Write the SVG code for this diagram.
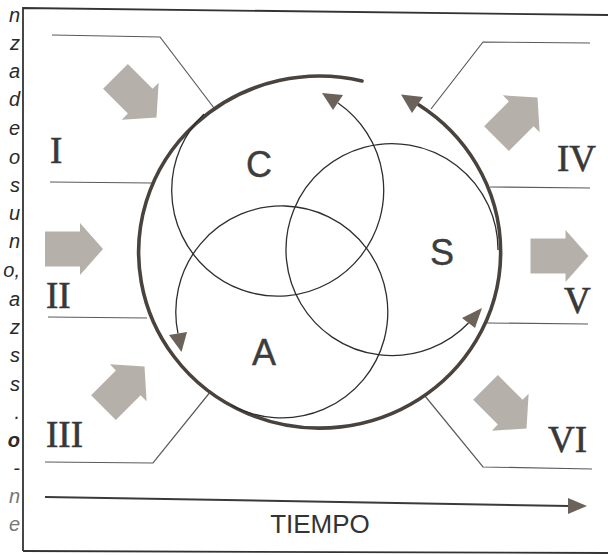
<svg xmlns="http://www.w3.org/2000/svg" width="608" height="555" viewBox="0 0 608 555">
<style>
.frame{fill:none;stroke:#333;stroke-width:1.8}
.lead{fill:none;stroke:#5a5a5a;stroke-width:1.2}
.thin{fill:none;stroke:#2e2e2e;stroke-width:1.3}
.thick{fill:none;stroke:#4a433d;stroke-width:3.6;stroke-linecap:round}
.head{fill:#6b625a}
.blk{fill:#b5b0aa}
.rom{font-family:"Liberation Serif",serif;font-size:37px;fill:#383838;stroke:#383838;stroke-width:0.6}
.let{font-family:"Liberation Sans",Arial,sans-serif;font-size:36px;fill:#3d3d3d;stroke:#3d3d3d;stroke-width:0.4;text-anchor:middle}
.frag{font-family:"Liberation Sans",Arial,sans-serif;font-size:20px;font-style:italic;fill:#2a2a2a;text-anchor:end}
.axis{fill:none;stroke:#3a3a3a;stroke-width:2}
</style>
<defs>
<polygon id="blk" points="-29,-17.5 6,-17.5 6,-26 29,0 6,26 6,17.5 -29,17.5"/>
</defs>
<rect width="608" height="555" fill="#fff"/>
<g id="margin-text" class="frag">
<text x="20" y="22">n</text>
<text x="20" y="50">z</text>
<text x="20" y="78">a</text>
<text x="20" y="106">d</text>
<text x="20" y="135">e</text>
<text x="20" y="164">o</text>
<text x="20" y="192">s</text>
<text x="20" y="220">u</text>
<text x="20" y="248">n</text>
<text x="20" y="277">o,</text>
<text x="20" y="306">a</text>
<text x="20" y="334">z</text>
<text x="20" y="362">s</text>
<text x="20" y="391">s</text>
<text x="20" y="419">.</text>
<text x="20" y="447" font-weight="bold">o</text>
<text x="20" y="475">-</text>
<text x="20" y="503" fill="#777">n</text>
<text x="20" y="531" fill="#777">e</text>
</g>
<g id="frame">
<path class="frame" d="M23,551 L23,8 L608,15"/>
<path class="frame" d="M23,551 L608,553"/>
</g>
<g id="connectors">
<path class="lead" d="M52,35 L160,37 L214,108"/>
<path class="lead" d="M50,182 L152,183"/>
<path class="lead" d="M48,317 L147,318"/>
<path class="lead" d="M45,462 L153,463 L211,391"/>
<path class="lead" d="M590,43 L483,42 L431,109"/>
<path class="lead" d="M490,187 L590,188"/>
<path class="lead" d="M487,323 L588,324"/>
<path class="lead" d="M425,396 L483,467 L592,469"/>
</g>
<g id="cycle">
<path class="thick" d="M362,81 A181,176 0 1 0 419,105"/>
<polygon class="head" points="401,94.5 423,97 412,113"/>
</g>
<g id="circle-C">
<path class="thin" d="M204,114 A106,106 0 1 0 338,103"/>
<polygon class="head" points="322,93 343,95 333,110"/>
<text class="let" x="259" y="177">C</text>
</g>
<g id="circle-S">
<path class="thin" d="M498,250 A106,106 0 1 0 468.5,323"/>
<polygon class="head" points="482,308 462,318 475,328"/>
<text class="let" x="442" y="265">S</text>
</g>
<g id="circle-A">
<path class="thin" d="M231,405 A106,106 0 1 0 178,333.5"/>
<polygon class="head" points="169,335 187,332 181.5,352"/>
<text class="let" x="264" y="365">A</text>
</g>
<g id="stage-I">
<use href="#blk" class="blk" transform="translate(136,97) rotate(45)"/>
<text class="rom" x="50" y="163">I</text>
</g>
<g id="stage-II">
<use href="#blk" class="blk" transform="translate(74,249)"/>
<text class="rom" x="46" y="308">II</text>
</g>
<g id="stage-III">
<use href="#blk" class="blk" transform="translate(124,387) rotate(-45)"/>
<text class="rom" x="46" y="447">III</text>
</g>
<g id="stage-IV">
<use href="#blk" class="blk" transform="translate(517,118) rotate(-45)"/>
<text class="rom" x="557" y="171">IV</text>
</g>
<g id="stage-V">
<use href="#blk" class="blk" transform="translate(559.5,256)"/>
<text class="rom" x="564" y="313">V</text>
</g>
<g id="stage-VI">
<use href="#blk" class="blk" transform="translate(506,408) rotate(45)"/>
<text class="rom" x="548" y="452">VI</text>
</g>
<g id="time">
<path class="axis" d="M45,497 L569,506"/>
<polygon class="head" points="587,506 568,498 568,514"/>
<text x="320" y="533" font-family="Liberation Sans,Arial,sans-serif" font-size="26" fill="#333" text-anchor="middle">TIEMPO</text>
</g>
</svg>
